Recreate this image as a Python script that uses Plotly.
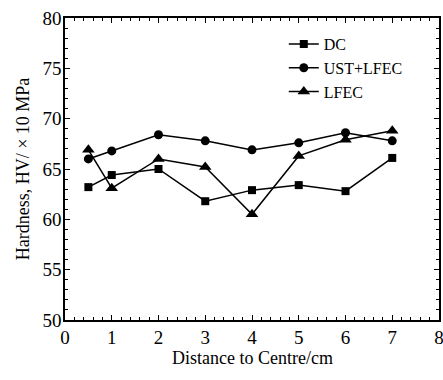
import plotly.graph_objects as go

x = [0.5, 1, 2, 3, 4, 5, 6, 7]
dc = [63.2, 64.4, 65.0, 61.8, 62.9, 63.4, 62.8, 66.1]
ust_lfec = [66.0, 66.8, 68.4, 67.8, 66.9, 67.6, 68.6, 67.8]
lfec = [66.9, 63.1, 66.0, 65.2, 60.5, 66.3, 67.9, 68.8]

fig = go.Figure()
for name, y, sym, sz in [("DC", dc, "square", 8), ("UST+LFEC", ust_lfec, "circle", 9), ("LFEC", lfec, "triangle-up", 11)]:
    fig.add_trace(go.Scatter(x=x, y=y, name=name, mode="lines+markers",
                             line=dict(color="black", width=1.5),
                             marker=dict(symbol=sym, size=sz, color="black")))

font = "Liberation Serif"
axis_common = dict(showline=True, linecolor="black", linewidth=1.5, mirror="allticks",
                   ticks="inside", ticklen=5, tickwidth=1, tickcolor="black",
                   showgrid=False, zeroline=False, ticklabeloverflow="allow",
                   tickfont=dict(family=font, size=19, color="black"),
                   minor=dict(ticks="inside", ticklen=3, tickcolor="black", tickwidth=1))
fig.update_xaxes(range=[0, 8], dtick=1, ticklabelstandoff=-1, **axis_common)
fig.update_yaxes(range=[50, 80], dtick=5, ticklabelstandoff=-2,
                 title=dict(text="Hardness, HV/ × 10 MPa", font=dict(family=font, size=18, color="black"), standoff=8),
                 **axis_common)
fig.add_annotation(text="Distance to Centre/cm", xref="paper", yref="paper", x=0.5, y=-0.126,
                   xanchor="center", yanchor="middle", showarrow=False,
                   font=dict(family=font, size=18, color="black"))
fig.update_layout(width=443, height=380, margin=dict(l=65, r=4, t=18, b=60, autoexpand=False),
                  font=dict(family=font, color="black"),
                  plot_bgcolor="white", paper_bgcolor="white",
                  legend=dict(x=0.585, y=0.97, xanchor="left", yanchor="top",
                              bgcolor="rgba(0,0,0,0)", font=dict(family=font, size=16, color="black"),
                              tracegroupgap=0, itemwidth=30))
fig.write_html("out.html")
